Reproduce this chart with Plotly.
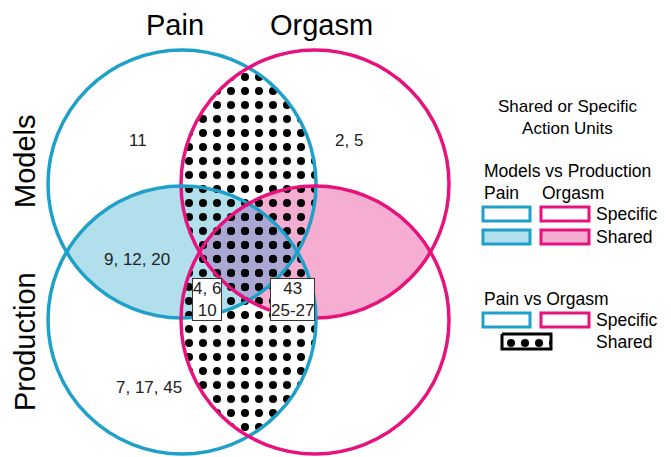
import numpy as np
import plotly.graph_objects as go

# ---------------------------------------------------------------------------
# Data: set names, region contents, legend text
# ---------------------------------------------------------------------------
conditions = ["Pain", "Orgasm"]
datasets = ["Models", "Production"]
region_labels = ["11", "2, 5", "9, 12, 20", "7, 17, 45"]
boxed_labels = ["4, 6<br>10", "43<br>25-27"]
legend_title = "Shared or Specific<br>Action Units"
legend_groups = ["Models vs Production", "Pain vs Orgasm"]
legend_kinds = ["Specific", "Shared"]

# ---------------------------------------------------------------------------
# Styling / layout (pixel coordinates, y down)
# ---------------------------------------------------------------------------
W, H = 671, 457
FONT = "Liberation Sans, Arial, sans-serif"
BLUE = "#1ea0c8"
PINK = "#e6137f"
BLUE_FILL = "#b2dfec"
PINK_FILL = "#f5aed2"
MIX_FILL = "#aaa7d3"
LINE_COL = {"Pain": BLUE, "Orgasm": PINK}

R = 134
CX = {"Pain": 182, "Orgasm": 315}
CY = {"Models": 184, "Production": 320}

region_pos = [(138, 140), (349, 140), (137, 259), (149, 387)]
boxed_pos = [(207, 299), (292, 299)]


def circle_pts(cx, cy, r, n=1441):
    t = np.linspace(0, 2 * np.pi, n)
    return cx + r * np.cos(t), cy + r * np.sin(t)


def overlap(circles):
    """Polygon of the (convex) intersection of equal-radius circles."""
    xs, ys = [], []
    for i, (cx, cy) in enumerate(circles):
        px, py = circle_pts(cx, cy, R)
        keep = np.ones_like(px, dtype=bool)
        for j, (ox, oy) in enumerate(circles):
            if j != i:
                keep &= np.hypot(px - ox, py - oy) <= R + 1e-6
        xs.append(px[keep])
        ys.append(py[keep])
    xs = np.concatenate(xs)
    ys = np.concatenate(ys)
    order = np.argsort(np.arctan2(ys - ys.mean(), xs - xs.mean()))
    xs, ys = xs[order], ys[order]
    return list(xs) + [xs[0]], list(ys) + [ys[0]]


def centre(cond, ds):
    return (CX[cond], CY[ds])


TL = centre("Pain", "Models")
TR = centre("Orgasm", "Models")
BL = centre("Pain", "Production")
BR = centre("Orgasm", "Production")

fig = go.Figure()


def add_fill(poly, color):
    fig.add_trace(go.Scatter(
        x=poly[0], y=poly[1], mode="lines", fill="toself",
        fillcolor=color, line=dict(width=0), hoverinfo="skip",
        showlegend=False,
    ))


DOTS = dict(shape=".", size=14, solidity=0.26, fgcolor="black",
            fgopacity=1, fillmode="overlay")


def add_dots(poly):
    fig.add_trace(go.Scatter(
        x=poly[0], y=poly[1], mode="lines", fill="toself",
        fillcolor="rgba(0,0,0,0)", fillpattern=DOTS,
        line=dict(width=0), hoverinfo="skip", showlegend=False,
    ))


# shared Models vs Production
add_fill(overlap([TL, BL]), BLUE_FILL)
add_fill(overlap([TR, BR]), PINK_FILL)
add_fill(overlap([TL, BL, TR, BR]), MIX_FILL)
# shared Pain vs Orgasm
add_dots(overlap([TL, TR]))
add_dots(overlap([BL, BR]))

# circle outlines
for ds in datasets:
    for cond in conditions:
        cx, cy = centre(cond, ds)
        fig.add_shape(type="circle", x0=cx - R, x1=cx + R, y0=cy - R, y1=cy + R,
                      line=dict(color=LINE_COL[cond], width=3.5))

# set labels
for cond, x in zip(conditions, [175, 321]):
    fig.add_annotation(x=x, y=25, text=cond, showarrow=False,
                       font=dict(size=29, color="black"))
for ds, y in zip(datasets, [161, 342]):
    fig.add_annotation(x=25, y=y, text=ds, textangle=-90, showarrow=False,
                       font=dict(size=29, color="black"))

# region contents
for txt, (x, y) in zip(region_labels, region_pos):
    fig.add_annotation(x=x, y=y, text=txt, showarrow=False,
                       font=dict(size=17, color="#222"))
for txt, (x, y) in zip(boxed_labels, boxed_pos):
    fig.add_annotation(x=x, y=y, text=txt, showarrow=False,
                       font=dict(size=17, color="#222"), bgcolor="white",
                       bordercolor="#333", borderwidth=1, borderpad=0)

# ---------------------------------------------------------------------------
# Legend (drawn by hand)
# ---------------------------------------------------------------------------
LEG = dict(size=17.5, color="black")
fig.add_annotation(x=567, y=117, text=legend_title, showarrow=False,
                   font=dict(size=17, color="black"))
fig.add_annotation(x=482, y=171, text=legend_groups[0], showarrow=False,
                   xanchor="left", font=LEG)
fig.add_annotation(x=482, y=193, text=conditions[0], showarrow=False,
                   xanchor="left", font=LEG)
fig.add_annotation(x=540, y=193, text=conditions[1], showarrow=False,
                   xanchor="left", font=LEG)
fig.add_annotation(x=482, y=299, text=legend_groups[1], showarrow=False,
                   xanchor="left", font=LEG)
for txt, y in zip(legend_kinds + legend_kinds, [214, 237, 320, 342]):
    fig.add_annotation(x=594, y=y, text=txt, showarrow=False,
                       xanchor="left", font=LEG)

box_x = [(483, 530), (541, 589)]
for (x0, x1), col, fill in zip(box_x, [BLUE, PINK], [BLUE_FILL, PINK_FILL]):
    fig.add_shape(type="rect", x0=x0, x1=x1, y0=207, y1=221,
                  line=dict(color=col, width=3), fillcolor="white")
    fig.add_shape(type="rect", x0=x0, x1=x1, y0=230, y1=244,
                  line=dict(color=col, width=3), fillcolor=fill)
    fig.add_shape(type="rect", x0=x0, x1=x1, y0=313, y1=327,
                  line=dict(color=col, width=3), fillcolor="white")

lx = [502, 551, 551, 502, 502]
ly = [334, 334, 349, 349, 334]
fig.add_trace(go.Scatter(
    x=lx, y=ly, mode="lines", fill="toself", fillcolor="rgba(0,0,0,0)",
    fillpattern=DOTS, line=dict(color="black", width=3),
    hoverinfo="skip", showlegend=False,
))

fig.update_layout(
    width=W, height=H,
    margin=dict(l=0, r=0, t=0, b=0),
    paper_bgcolor="white", plot_bgcolor="white",
    font=dict(family=FONT, color="black"),
    xaxis=dict(range=[0, W], visible=False, fixedrange=True),
    yaxis=dict(range=[H, 0], visible=False, fixedrange=True),
    showlegend=False,
)

fig.write_html("out.html", config=dict(displayModeBar=False),
               post_script="document.body.style.margin='0px';"
                           "document.body.style.overflow='hidden';")
